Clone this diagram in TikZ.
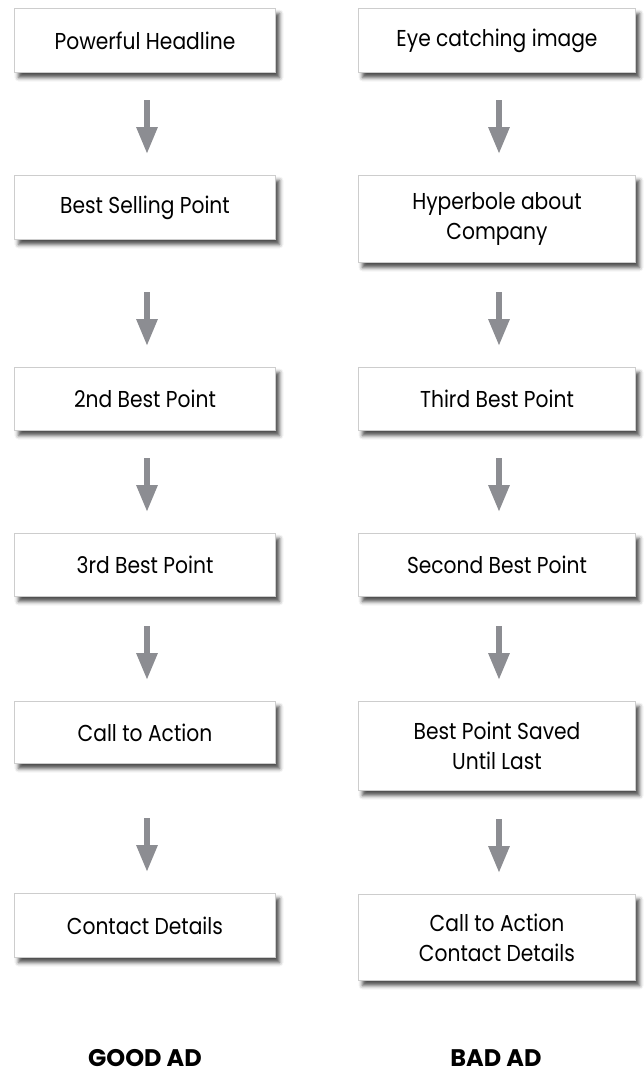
\documentclass[tikz,border=0pt]{standalone}
\usepackage{fontspec}
\setmainfont{Poppins}[FakeStretch=0.88]
\newfontfamily\adlabelfont{Poppins}
\usetikzlibrary{arrows.meta,shadows.blur}
\definecolor{arrowgray}{RGB}{140,141,146}
\definecolor{boxline}{RGB}{205,205,205}
\tikzset{
  adbox/.style={draw=boxline, line width=1pt, fill=white, anchor=north west,
    align=center, inner sep=0pt, font=\fontsize{23}{30}\selectfont,
    blur shadow={shadow xshift=4pt, shadow yshift=-5pt, shadow blur radius=4pt, shadow opacity=70}},
  leftbox/.style={adbox, minimum width=261pt},
  rightbox/.style={adbox, minimum width=277pt},
  flowarrow/.style={draw=arrowgray, line width=6pt,
    -{Triangle[width=20pt,length=27pt]}},
  adlabel/.style={font=\adlabelfont\bfseries\fontsize{24}{28}\selectfont, inner sep=0pt, anchor=base}
}
\begin{document}
\begin{tikzpicture}[x=1pt,y=-1pt]
\useasboundingbox (0,0) rectangle (644,1077);
% left column
\node[leftbox, minimum height=64pt] (L1) at (14,8) {Powerful Headline};
\node[leftbox, minimum height=64pt] (L2) at (14,175) {Best Selling Point};
\node[leftbox, minimum height=63pt] (L3) at (14,367) {2nd Best Point};
\node[leftbox, minimum height=63pt] (L4) at (14,533) {3rd Best Point};
\node[leftbox, minimum height=62pt] (L5) at (14,701) {Call to Action};
\node[leftbox, minimum height=64pt] (L6) at (14,893) {Contact Details};
% right column
\node[rightbox, minimum height=64pt] (R1) at (358,8) {Eye catching image};
\node[rightbox, minimum height=87pt] (R2) at (358,175) {Hyperbole about\\Company};
\node[rightbox, minimum height=63pt] (R3) at (358,367) {Third Best Point};
\node[rightbox, minimum height=63pt] (R4) at (358,533) {Second Best Point};
\node[rightbox, minimum height=89pt] (R5) at (358,701) {Best Point Saved\\Until Last};
\node[rightbox, minimum height=86pt] (R6) at (358,894) {Call to Action\\Contact Details};
% arrows
\foreach \a/\b in {L1/L2,L2/L3,L3/L4,L4/L5,L5/L6,R1/R2,R2/R3,R3/R4,R4/R5,R5/R6}{
  \draw[flowarrow] ([xshift=2pt,yshift=75pt]\b.north) -- ([xshift=2pt,yshift=21pt]\b.north);
}
% labels
\node[adlabel] (good) at (145,1066) {GOOD AD};
\node[adlabel] (bad) at (496,1066) {BAD AD};
\end{tikzpicture}
\end{document}
